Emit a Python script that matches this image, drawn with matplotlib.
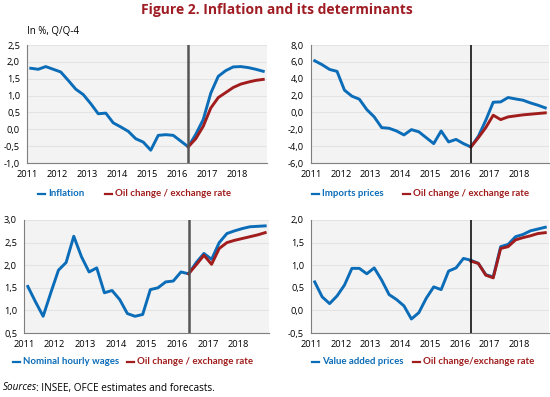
import numpy as np
import matplotlib
matplotlib.use("Agg")
import matplotlib.pyplot as plt
from matplotlib.lines import Line2D

plt.rcParams["font.family"] = ["Open Sans", "DejaVu Sans"]

BLUE = "#0b6cb8"
RED = "#a11d1d"
TITLE_RED = "#a01c24"

years = [2011, 2012, 2013, 2014, 2015, 2016, 2017, 2018]
split = 21  # 2016Q2, start of forecast

inflation = [1.81, 1.78, 1.86, 1.78, 1.70, 1.45, 1.19, 1.03, 0.76, 0.46, 0.48,
             0.19, 0.07, -0.06, -0.28, -0.38, -0.62, -0.18, -0.16, -0.18,
             -0.35, -0.52, -0.15, 0.29, 1.07, 1.57, 1.74, 1.85, 1.86, 1.83,
             1.78, 1.72]
inflation_oil = [-0.52, -0.28, 0.09, 0.63, 0.94, 1.09, 1.24, 1.34, 1.40, 1.45, 1.48]

imports = [6.13, 5.66, 5.10, 4.87, 2.64, 1.93, 1.57, 0.34, -0.53, -1.80, -1.88,
           -2.20, -2.67, -2.04, -2.30, -3.00, -3.70, -2.20, -3.50, -3.20,
           -3.70, -4.10, -2.83, -0.93, 1.21, 1.25, 1.77, 1.60, 1.45, 1.13,
           0.86, 0.54]
imports_oil = [-4.10, -3.00, -1.80, -0.33, -0.85, -0.53, -0.41, -0.29, -0.21, -0.13, -0.05]

wages = [1.53, 1.19, 0.87, 1.39, 1.89, 2.06, 2.64, 2.19, 1.85, 1.94, 1.39,
         1.44, 1.24, 0.93, 0.87, 0.91, 1.46, 1.50, 1.63, 1.65, 1.85, 1.81,
         2.06, 2.26, 2.13, 2.50, 2.70, 2.76, 2.81, 2.85, 2.86, 2.87]
wages_oil = [1.81, 2.01, 2.22, 2.02, 2.37, 2.50, 2.55, 2.59, 2.63, 2.67, 2.72]

va_prices = [0.63, 0.30, 0.15, 0.32, 0.56, 0.93, 0.93, 0.81, 0.94, 0.67, 0.35,
             0.24, 0.10, -0.19, -0.05, 0.27, 0.52, 0.46, 0.87, 0.94, 1.15,
             1.11, 1.04, 0.79, 0.74, 1.41, 1.46, 1.63, 1.68, 1.76, 1.80, 1.84]
va_oil = [1.09, 1.04, 0.78, 0.72, 1.37, 1.41, 1.56, 1.61, 1.65, 1.70, 1.72]

W, H = 550, 397


def px_rect(l, r, t, b):
    return [l / W, 1 - b / H, (r - l) / W, (b - t) / H]


def legend_entry(fig, x, y, label, color):
    fig.add_artist(Line2D([x / W, (x + 7) / W], [1 - y / H, 1 - y / H],
                          color=color, lw=1.6, transform=fig.transFigure))
    fig.text((x + 10) / W, 1 - y / H, label, color=color, fontsize=6.9,
             family=["Lato", "DejaVu Sans"], fontweight="bold",
             va="center", ha="left")


def panel(fig, rect, main, oil, ylim, yticks, vcolor, vlw):
    ax = fig.add_axes(rect)
    ax.set_facecolor("#f3f3f3")
    x = np.arange(len(main)) + 0.5
    xo = np.arange(split, split + len(oil)) + 0.5
    ax.plot(x, main, color=BLUE, lw=2.1, zorder=3)
    ax.plot(xo, oil, color=RED, lw=2.1, zorder=4)
    ax.axvline(split + 0.5, color=vcolor, lw=vlw, zorder=5)
    ax.set_xlim(0, 32)
    ax.set_ylim(*ylim)
    ax.set_yticks(yticks)
    ax.set_yticklabels([f"{v:.1f}".replace(".", ",") for v in yticks])
    ax.set_xticks(np.arange(0, 32, 4))
    ax.set_xticklabels([str(y) for y in years])
    ax.yaxis.grid(True, color="#e3e3e3", lw=0.8)
    ax.set_axisbelow(True)
    for s in ["top", "right"]:
        ax.spines[s].set_visible(False)
    for s in ["left", "bottom"]:
        ax.spines[s].set_color("#7f7f7f")
        ax.spines[s].set_linewidth(0.8)
    ax.tick_params(axis="x", length=0, labelsize=6.7, pad=5)
    ax.tick_params(axis="y", length=0, labelsize=6.7, pad=5)
    return ax


fig = plt.figure(figsize=(W / 100, H / 100), dpi=100)

fig.text(277 / W, 1 - 10 / H, "Figure 2. Inflation and its determinants",
         color=TITLE_RED, fontsize=10, fontweight="bold", ha="center", va="center")
fig.text(27 / W, 1 - 32 / H, "In %, Q/Q-4", fontsize=7, ha="left", va="center")

panel(fig, px_rect(27, 267, 45, 163), inflation, inflation_oil,
      (-1.0, 2.5), np.arange(-1.0, 2.51, 0.5), "#555555", 1.8)
panel(fig, px_rect(311, 549, 45, 163), imports, imports_oil,
      (-6.0, 8.0), np.arange(-6.0, 8.01, 2.0), "#111111", 1.2)
panel(fig, px_rect(24, 269, 220, 333), wages, wages_oil,
      (0.5, 3.0), np.arange(0.5, 3.01, 0.5), "#555555", 1.8)
panel(fig, px_rect(311, 549, 220, 333), va_prices, va_oil,
      (-0.5, 2.0), np.arange(-0.5, 2.01, 0.5), "#111111", 1.2)

legend_entry(fig, 38, 194, "Inflation", BLUE)
legend_entry(fig, 105, 194, "Oil change / exchange rate", RED)
legend_entry(fig, 312, 194, "Imports prices", BLUE)
legend_entry(fig, 403, 194, "Oil change / exchange rate", RED)
legend_entry(fig, 13, 362, "Nominal hourly wages", BLUE)
legend_entry(fig, 127, 362, "Oil change / exchange rate", RED)
legend_entry(fig, 312, 362, "Value added prices", BLUE)
legend_entry(fig, 413, 362, "Oil change/exchange rate", RED)

fig.text(3 / W, 1 - 388 / H, "Sources", fontsize=7.2, style="italic",
         ha="left", va="center")
fig.text(36 / W, 1 - 388 / H, ": INSEE, OFCE estimates and forecasts.",
         fontsize=7.2, ha="left", va="center")

fig.savefig("out.png", dpi=100)
